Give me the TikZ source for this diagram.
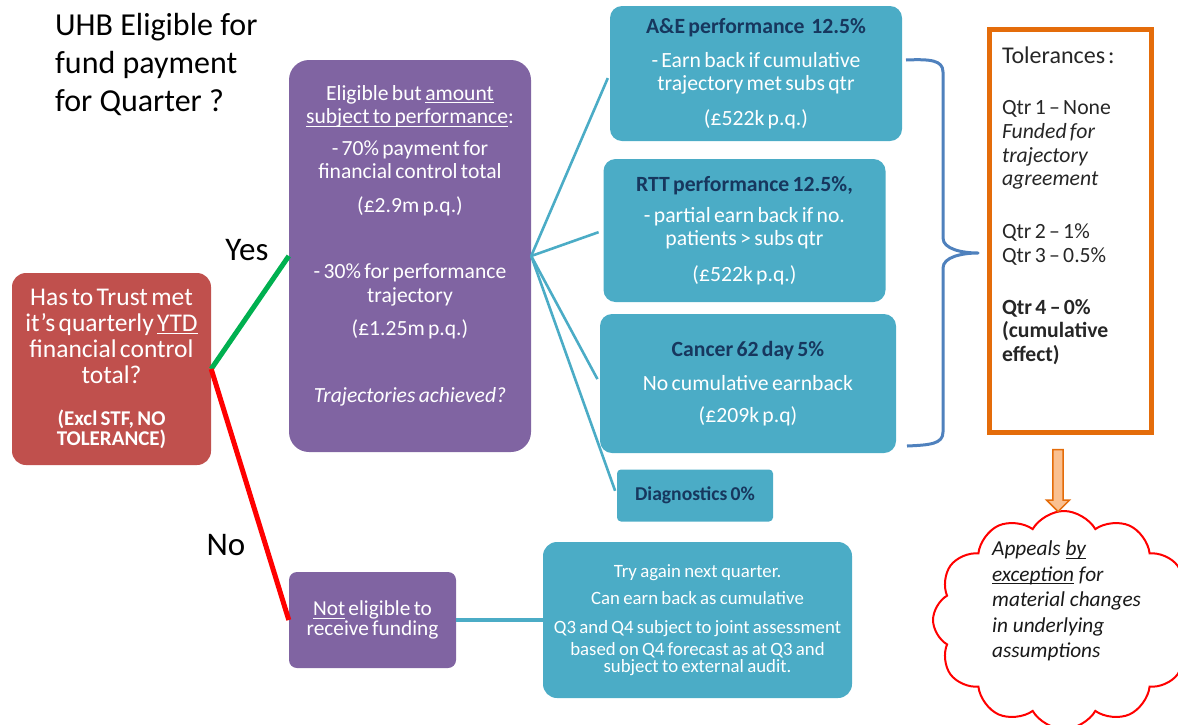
\documentclass[tikz,border=0pt]{standalone}
\usepackage{fontspec}
\setmainfont{Carlito}
\usetikzlibrary{shapes.symbols,shapes.arrows}
\definecolor{qred}{HTML}{C0504D}
\definecolor{purp}{HTML}{8064A2}
\definecolor{cyanb}{HTML}{4BACC6}
\definecolor{navy}{HTML}{17375E}
\definecolor{ygreen}{HTML}{00B050}
\definecolor{nred}{HTML}{FF0000}
\definecolor{orng}{HTML}{E46C0A}
\definecolor{lorng}{HTML}{FAC090}
\definecolor{brc}{HTML}{4F81BD}
\newcommand{\myul}[1]{\leavevmode\setbox0=\hbox{#1}\rlap{\rule[-3pt]{\wd0}{1pt}}\box0\relax}
\newcommand{\fs}[2]{\fontsize{#1}{#2}\selectfont\lineskiplimit=-50pt\relax}
\newcommand{\hd}[1]{{\bfseries\color{navy}#1}}
\tikzset{
  fillbox/.style={inner sep=0pt, align=center, text=white},
  redbox/.style={fillbox, fill=qred, rounded corners=14pt},
  purpbox/.style={fillbox, fill=purp},
  cyanbox/.style={fillbox, fill=cyanb, rounded corners=12pt},
  cyanline/.style={draw=cyanb, line width=2.6pt, shorten >=5pt},
  yesline/.style={draw=ygreen, line width=5pt},
  noline/.style={draw=nred, line width=5pt},
}
\begin{document}
\begin{tikzpicture}[x=1pt,y=-1pt]
\useasboundingbox (0,0) rectangle (1178,724);

% title
\node[anchor=west, align=left, inner sep=0pt, font=\fs{32}{38}] (title) at (55,65)
  {UHB Eligible for\\fund payment\\for Quarter ?};

% question
\node[redbox, minimum width=199pt, minimum height=192pt, text width=195pt] (q) at (111.5,369)
  {\fs{25.5}{26}Has to Trust met\\it’s quarterly \myul{YTD}\\financial control\\total?\\[20pt]
   \fs{21}{22.5}\bfseries (Excl STF, NO\\TOLERANCE)};

% eligible
\node[purpbox, rounded corners=20pt, minimum width=242pt, minimum height=392pt, text width=238pt] (elig) at (410,256)
  {\fs{21.6}{23.5}Eligible but \myul{amount}\\\myul{subject to performance}:\\[8pt]
   - 70\% payment for\\financial control total\\[10pt](£2.9m p.q.)\\[43pt]
   - 30\% for performance\\trajectory\\[10pt](£1.25m p.q.)\\[43pt]
   \textit{Trajectories achieved?}\\[13pt]\mbox{}};

% not eligible
\node[purpbox, rounded corners=8pt, minimum width=167pt, minimum height=96pt, text width=163pt] (ne) at (372.5,620)
  {\fs{21.3}{23.5}\myul{Not} eligible to\\receive funding};

% performance boxes
\node[cyanbox, minimum width=292pt, minimum height=135pt, text width=288pt] (ae) at (756,73.5)
  {\fs{21.7}{23}\hd{A\&E performance\ \ 12.5\%}\\[11pt]- Earn back if cumulative\\trajectory met subs qtr\\[15pt](£522k p.q.)};
\node[cyanbox, minimum width=282pt, minimum height=143pt, text width=278pt] (rtt) at (744.5,230.5)
  {\fs{21.7}{23}\hd{RTT performance 12.5\%,}\\[8pt]- partial earn back if no.\\patients > subs qtr\\[16pt](£522k p.q.)};
\node[cyanbox, minimum width=296pt, minimum height=139pt, text width=290pt] (cancer) at (748,383.5)
  {\fs{21.7}{23}\hd{Cancer 62 day 5\%}\\[11pt]No cumulative earnback\\[15pt](£209k p.q)};
\node[cyanbox, rounded corners=4pt, minimum width=156pt, minimum height=52pt, text width=152pt] (diag) at (695,495.5)
  {\fs{19.6}{23}\hd{Diagnostics 0\%}};

% try again
\node[cyanbox, rounded corners=14pt, minimum width=309pt, minimum height=156pt, text width=306pt] (try) at (697.5,620)
  {\fs{18.8}{22.5}Try again next quarter.\\[4.5pt]Can earn back as cumulative\\[6.5pt]
   Q3 and Q4 subject to joint assessment\\based on Q4 forecast as at Q3 and\\subject to external audit.};

% tolerances
\node[draw=orng, line width=5pt, minimum width=162pt, minimum height=403pt, text width=137pt,
      align=left, inner sep=0pt, text=black!85] (tol) at (1070.5,231)
  {\fs{24}{24}Tolerances\kern3pt:\\[28pt]
   \fs{21.7}{23.7}Qtr 1 – None\\\textit{Funded for}\\\textit{trajectory}\\\textit{agreement}\\[29pt]
   Qtr 2 – 1\%\\Qtr 3 – 0.5\%\\[28pt]
   \textbf{Qtr 4 – 0\%}\\\textbf{(cumulative}\\\textbf{effect)}\\[42pt]\mbox{}};

% brace
\draw[brc, line width=3pt, line join=round]
  (906,60) .. controls (930,59) and (943,60) .. (943,72) -- (943,238)
  .. controls (943,249) and (962,253) .. (978,253)
  .. controls (962,253) and (943,257) .. (943,268) -- (943,432)
  .. controls (943,444) and (930,445) .. (907,446);

% cloud
\begin{scope}
\clip (0,0) rectangle (1178,724);
\node[cloud, draw=nred, line width=2pt, fill=white, cloud puffs=12, cloud puff arc=120,
      cloud ignores aspect, minimum width=262pt, minimum height=218pt, inner sep=0pt] (cloud) at (1064,620) {};
\end{scope}
\node[anchor=west, align=left, inner sep=0pt, text=black!90, font=\fs{21.3}{25.5}\itshape] (appeals) at (992,601)
  {Appeals \myul{by}\\\myul{exception} for\\material changes\\in underlying\\assumptions};

% block arrow
\node[single arrow, rotate=-90, draw=orng, fill=lorng, line width=1.5pt, minimum height=62pt,
      minimum width=23pt, inner sep=4pt, single arrow head extend=6pt] (arr) at (1058,478) {};

% connectors
\draw[yesline] (q.east) -- (elig.west);
\draw[noline] (q.east) -- (ne.west);
\draw[cyanline] (elig.east) -- (ae.west);
\draw[cyanline] (elig.east) -- (rtt.west);
\draw[cyanline] (elig.east) -- (cancer.west);
\draw[cyanline] (elig.east) -- (diag.west);
\draw[cyanb, line width=4pt] (ne.east) -- (try.west);

% labels
\node[font=\fs{33}{36}] (yes) at (247,250) {Yes};
\node[font=\fs{33}{36}] (no) at (226,545) {No};
\end{tikzpicture}
\end{document}
